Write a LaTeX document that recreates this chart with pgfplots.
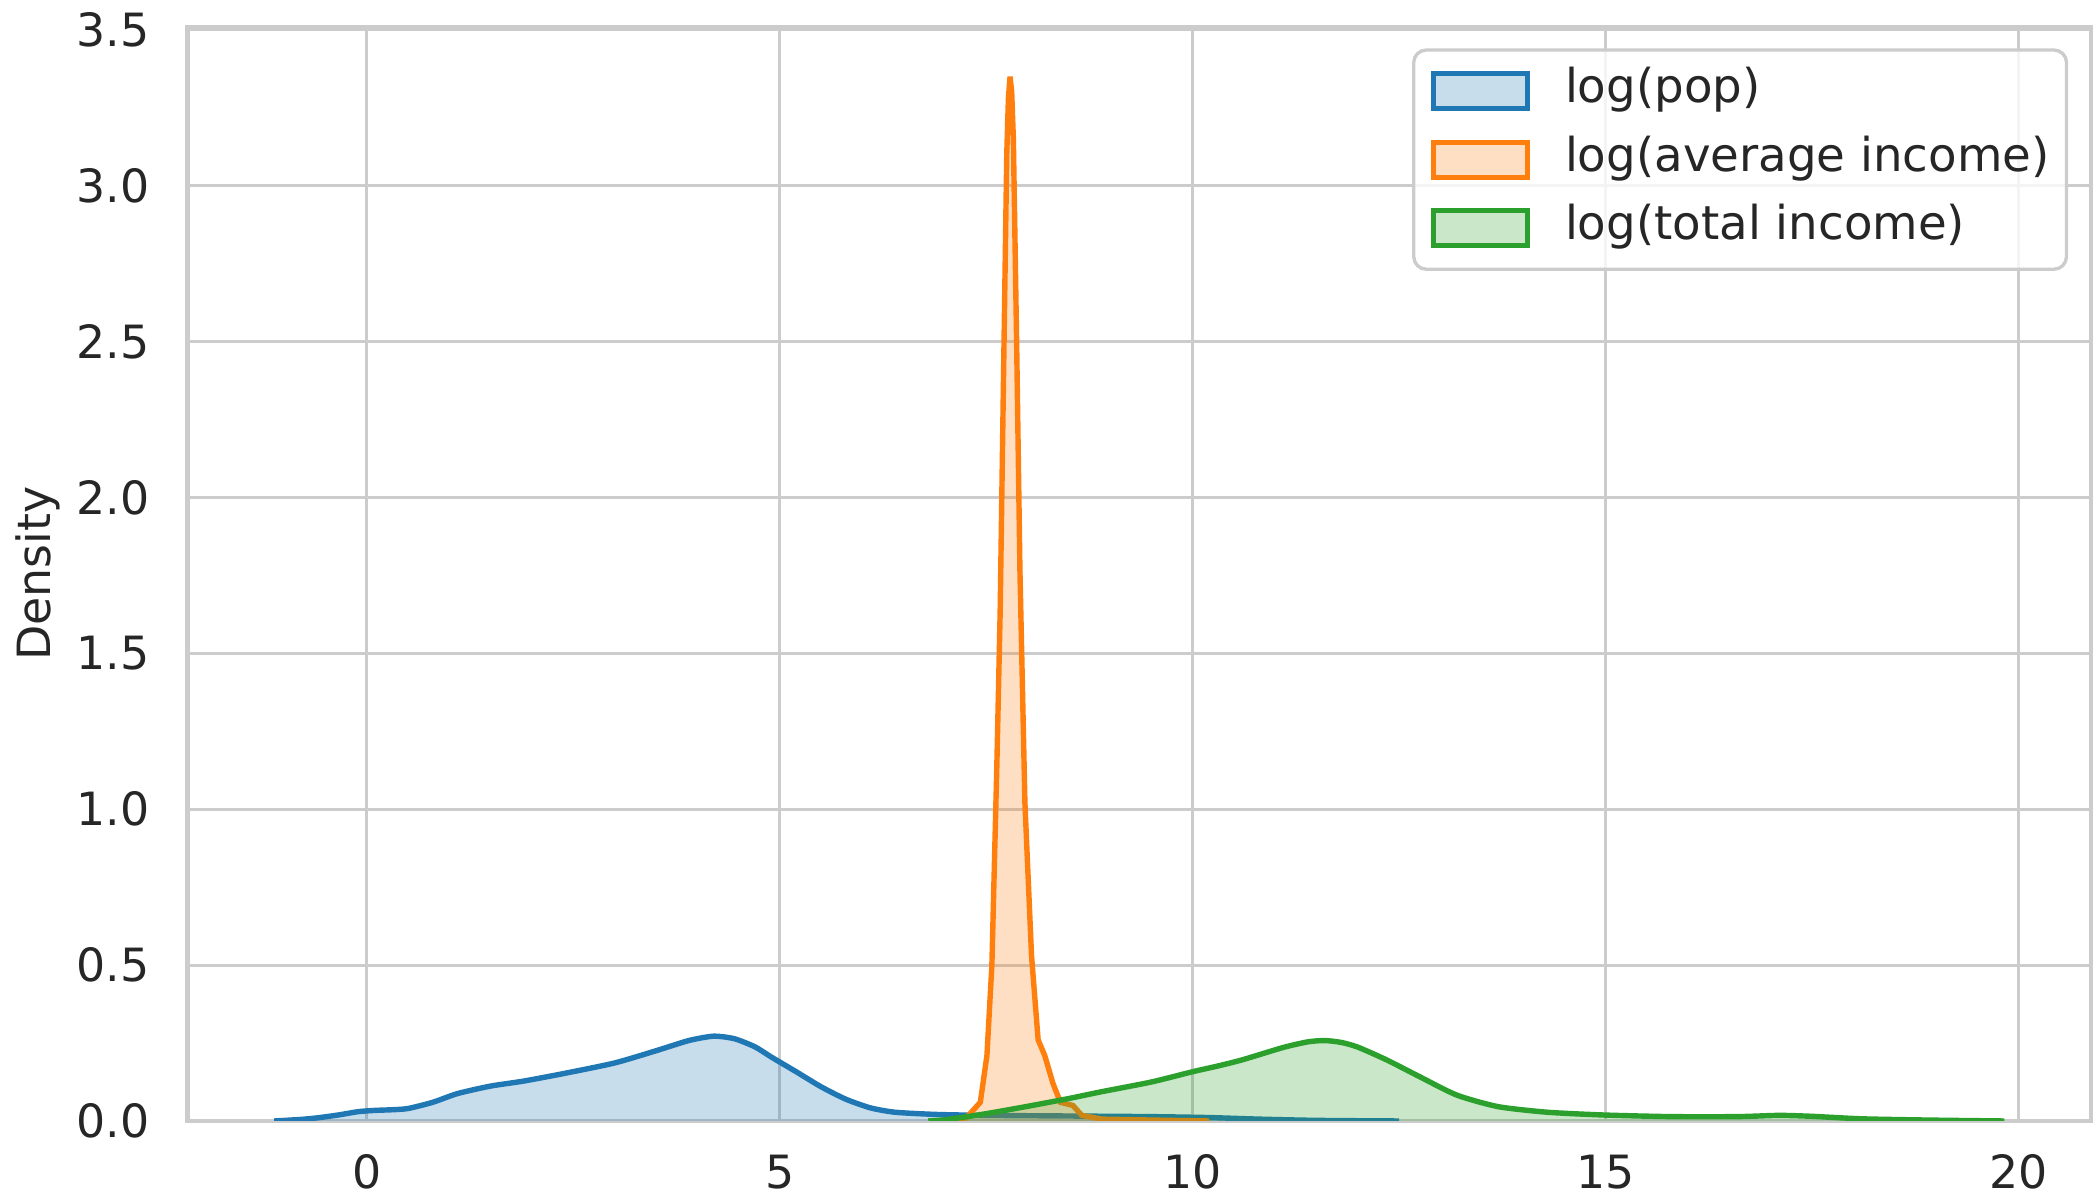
\documentclass[border=0pt]{standalone}
\usepackage{pgfplots}
\pgfplotsset{compat=1.18}
\usepackage{pgfplotstable}
\usepackage{fontspec}
\setmainfont{DejaVu Sans}
\definecolor{cblue}{RGB}{31,119,180}
\definecolor{corange}{RGB}{255,127,14}
\definecolor{cgreen}{RGB}{44,160,44}
\definecolor{ctext}{RGB}{38,38,38}

\pgfplotstableread{
x y
-1.12 0
-0.8 0.005
-0.6 0.010
-0.35 0.019
-0.1 0.030
0.1 0.034
0.3 0.036
0.5 0.040
0.8 0.060
1.1 0.088
1.5 0.112
1.9 0.128
2.4 0.153
3.0 0.186
3.5 0.225
3.9 0.258
4.2 0.272
4.45 0.264
4.7 0.238
4.9 0.205
5.2 0.158
5.5 0.110
5.8 0.070
6.1 0.042
6.4 0.028
6.9 0.021
7.5 0.018
8.5 0.016
9.5 0.014
10.2 0.011
10.8 0.006
11.5 0.002
12.5 0
}\popdata

\pgfplotstableread{
x y
7.0 0
7.26 0.010
7.43 0.060
7.51 0.210
7.57 0.500
7.63 1.140
7.67 1.630
7.71 2.370
7.75 3.100
7.77 3.280
7.79 3.350
7.81 3.300
7.83 3.150
7.87 2.490
7.91 1.760
7.97 1.020
8.05 0.530
8.13 0.260
8.21 0.210
8.31 0.120
8.40 0.060
8.55 0.050
8.66 0.018
8.9 0.006
9.5 0.003
10.2 0
}\avgdata

\pgfplotstableread{
x y
6.8 0
7.0 0.004
7.3 0.015
7.6 0.028
8.0 0.047
8.5 0.072
8.9 0.094
9.5 0.125
10.0 0.158
10.3 0.176
10.6 0.196
11.1 0.236
11.4 0.254
11.6 0.258
11.8 0.252
12.0 0.237
12.35 0.196
12.75 0.142
13.2 0.083
13.7 0.046
14.3 0.028
15.0 0.019
15.8 0.014
16.6 0.014
17.1 0.018
17.5 0.015
18.1 0.007
18.9 0.003
19.83 0
}\totdata

\begin{document}
\begin{tikzpicture}
\begin{axis}[
  scale only axis,
  width=456.8pt, height=262.6pt,
  xmin=-2.17, xmax=20.88, ymin=0, ymax=3.51,
  xtick={0,5,10,15,20}, xticklabels={0,5,10,15,20},
  ytick={0,0.5,1,1.5,2,2.5,3,3.5},
  yticklabels={0.0,0.5,1.0,1.5,2.0,2.5,3.0,3.5},
  major tick length=0pt,
  grid=major,
  major grid style={line width=0.7pt, color=black!20},
  axis line style={line width=1pt, color=black!20},
  tick label style={font=\fontsize{11}{13}\selectfont, text=ctext},
  xticklabel style={anchor=north, inner sep=0pt, yshift=-7.9pt},
  yticklabel style={anchor=east, inner sep=0pt, xshift=-9pt},
  ylabel={Density},
  every axis y label/.style={at={([xshift=-36pt]rel axis cs:0,0.5)}, rotate=90, anchor=center, inner sep=0pt, font=\fontsize{11}{13}\selectfont, text=ctext},
  legend cell align=left,
  legend style={at={(rel axis cs:1,1)}, anchor=north east, xshift=-5.5pt, yshift=-5.2pt,
    draw=black!20, line width=0.8pt, rounded corners=3pt, fill=white, fill opacity=0.8, text opacity=1, draw opacity=1,
    font=\fontsize{11.2}{13}\selectfont, text=ctext,
    inner xsep=4.1pt, inner ysep=4.4pt, row sep=5.4pt,
    nodes={inner sep=0pt, text height=8.3pt, text depth=2.7pt},
    /tikz/every odd column/.append style={column sep=8.5pt}},
]
\addplot[draw=none, fill=cblue, fill opacity=0.25, smooth, tension=0.4, forget plot] table {\popdata} \closedcycle;
\addplot[cblue, line width=1.3pt, smooth, tension=0.4, forget plot] table {\popdata};
\addplot[draw=none, fill=corange, fill opacity=0.25, forget plot] table {\avgdata} \closedcycle;
\addplot[corange, line width=1.3pt, forget plot] table {\avgdata};
\addplot[draw=none, fill=cgreen, fill opacity=0.25, smooth, tension=0.4, forget plot] table {\totdata} \closedcycle;
\addplot[cgreen, line width=1.3pt, smooth, tension=0.4, forget plot] table {\totdata};

\addlegendimage{legend image code/.code={\draw[sharp corners, cblue, line width=1.2pt, fill=cblue!25, fill opacity=1] (0pt,-4.2pt) rectangle (22.5pt,4.2pt);}}
\addlegendentry{log(pop)}
\addlegendimage{legend image code/.code={\draw[sharp corners, corange, line width=1.2pt, fill=corange!25, fill opacity=1] (0pt,-4.2pt) rectangle (22.5pt,4.2pt);}}
\addlegendentry{log(average income)}
\addlegendimage{legend image code/.code={\draw[sharp corners, cgreen, line width=1.2pt, fill=cgreen!25, fill opacity=1] (0pt,-4.2pt) rectangle (22.5pt,4.2pt);}}
\addlegendentry{log(total income)}
\end{axis}
\pgfresetboundingbox
\path ([xshift=-45pt,yshift=-19pt]current axis.south west) rectangle ([xshift=1.9pt,yshift=6.4pt]current axis.north east);
\end{tikzpicture}
\end{document}
